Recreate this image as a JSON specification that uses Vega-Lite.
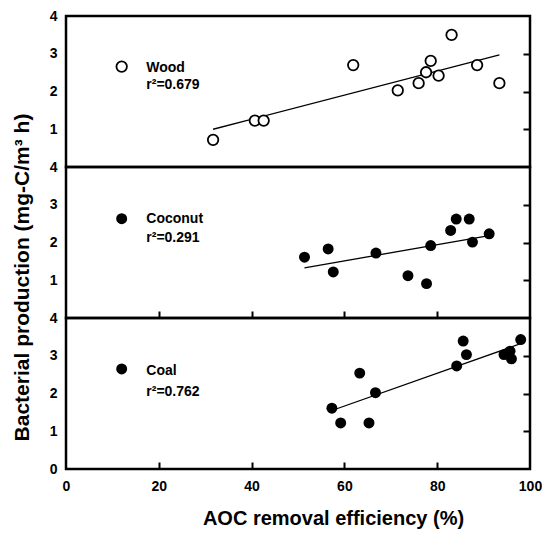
{
  "$schema": "https://vega.github.io/schema/vega-lite/v6.json",
  "padding": {"left": 9, "top": 7, "right": 0, "bottom": 5},
  "background": "white",
  "spacing": 0,
  "bounds": "flush",
  "config": {
    "view": {"stroke": "black", "strokeWidth": 2.5},
    "font": "Liberation Sans",
    "axis": {
      "domain": false, "ticks": false, "grid": true,
      "gridColor": "black", "gridWidth": 2, "gridOpacity": 1,
      "labelFlush": false, "labelOverlap": false,
      "labelFont": "Liberation Sans", "labelFontWeight": "bold", "labelFontSize": 14, "labelColor": "black",
      "titleFont": "Liberation Sans", "titleFontWeight": "bold", "titleFontSize": 21, "titleColor": "black",
      "minExtent": 0
    }
  },
  "datasets": {
    "points": [
      {"panel": "Wood", "x": 31.7, "y": 0.72},
      {"panel": "Wood", "x": 40.7, "y": 1.23},
      {"panel": "Wood", "x": 42.6, "y": 1.23},
      {"panel": "Wood", "x": 61.9, "y": 2.70},
      {"panel": "Wood", "x": 71.5, "y": 2.03},
      {"panel": "Wood", "x": 76.0, "y": 2.22},
      {"panel": "Wood", "x": 77.6, "y": 2.51},
      {"panel": "Wood", "x": 78.6, "y": 2.81},
      {"panel": "Wood", "x": 80.3, "y": 2.42},
      {"panel": "Wood", "x": 83.1, "y": 3.50},
      {"panel": "Wood", "x": 88.6, "y": 2.70},
      {"panel": "Wood", "x": 93.4, "y": 2.22},
      {"panel": "Coconut", "x": 51.4, "y": 1.61},
      {"panel": "Coconut", "x": 56.5, "y": 1.83},
      {"panel": "Coconut", "x": 57.6, "y": 1.22},
      {"panel": "Coconut", "x": 66.8, "y": 1.72},
      {"panel": "Coconut", "x": 73.7, "y": 1.12},
      {"panel": "Coconut", "x": 77.7, "y": 0.91},
      {"panel": "Coconut", "x": 78.6, "y": 1.92},
      {"panel": "Coconut", "x": 82.9, "y": 2.32},
      {"panel": "Coconut", "x": 84.1, "y": 2.62},
      {"panel": "Coconut", "x": 86.9, "y": 2.62},
      {"panel": "Coconut", "x": 87.6, "y": 2.01},
      {"panel": "Coconut", "x": 91.2, "y": 2.23},
      {"panel": "Coal", "x": 57.3, "y": 1.61},
      {"panel": "Coal", "x": 59.2, "y": 1.22},
      {"panel": "Coal", "x": 63.3, "y": 2.54},
      {"panel": "Coal", "x": 65.3, "y": 1.22},
      {"panel": "Coal", "x": 66.7, "y": 2.02},
      {"panel": "Coal", "x": 84.2, "y": 2.73},
      {"panel": "Coal", "x": 85.6, "y": 3.39},
      {"panel": "Coal", "x": 86.3, "y": 3.03},
      {"panel": "Coal", "x": 94.4, "y": 3.03},
      {"panel": "Coal", "x": 95.7, "y": 3.12},
      {"panel": "Coal", "x": 96.0, "y": 2.92},
      {"panel": "Coal", "x": 98.0, "y": 3.43}
    ],
    "lines": [
      {"panel": "Wood", "x": 31.7, "y": 1.00},
      {"panel": "Wood", "x": 93.4, "y": 2.97},
      {"panel": "Coconut", "x": 51.4, "y": 1.33},
      {"panel": "Coconut", "x": 91.2, "y": 2.18},
      {"panel": "Coal", "x": 57.3, "y": 1.55},
      {"panel": "Coal", "x": 98.0, "y": 3.32}
    ],
    "keys": [
      {"panel": "Wood", "x": 12.0, "y": 2.66},
      {"panel": "Coconut", "x": 12.0, "y": 2.63},
      {"panel": "Coal", "x": 12.0, "y": 2.65}
    ],
    "labels": [
      {"panel": "Wood", "x": 17.3, "y": 2.63, "text": "Wood"},
      {"panel": "Wood", "x": 17.3, "y": 2.16, "text": "r²=0.679"},
      {"panel": "Coconut", "x": 17.3, "y": 2.62, "text": "Coconut"},
      {"panel": "Coconut", "x": 17.3, "y": 2.12, "text": "r²=0.291"},
      {"panel": "Coal", "x": 17.3, "y": 2.60, "text": "Coal"},
      {"panel": "Coal", "x": 17.3, "y": 2.05, "text": "r²=0.762"}
    ]
  },
  "vconcat": [
    {
      "width": 464, "height": 151,
      "layer": [
        {
          "data": {"name": "lines"},
          "transform": [{"filter": "datum.panel === 'Wood'"}],
          "mark": {"type": "line", "color": "black", "strokeWidth": 1.3},
          "encoding": {
            "x": {"field": "x", "type": "quantitative", "scale": {"domain": [0, 100], "nice": false}, "axis": null},
            "y": {"field": "y", "type": "quantitative", "scale": {"domain": [0, 4], "nice": false},
                  "axis": {"orient": "right", "values": [1, 2, 3], "labels": false, "title": null, "gridDash": [7, 1000]}}
          }
        },
        {
          "data": {"name": "points"},
          "transform": [{"filter": "datum.panel === 'Wood'"}],
          "mark": {"type": "point", "shape": "circle", "filled": true, "fill": "white", "stroke": "black", "strokeWidth": 1.8, "size": 110, "opacity": 1},
          "encoding": {
            "x": {"field": "x", "type": "quantitative", "axis": {"orient": "bottom", "values": [20, 40, 60, 80], "labels": false, "title": null, "gridDash": [7, 1000]}},
            "y": {"field": "y", "type": "quantitative",
                  "axis": {"orient": "left", "values": [1, 2, 3, 4], "format": "d", "title": null, "labelPadding": 9, "gridDash": [7, 1000]}}
          }
        },
        {
          "data": {"name": "keys"},
          "transform": [{"filter": "datum.panel === 'Wood'"}],
          "mark": {"type": "point", "shape": "circle", "filled": true, "fill": "white", "stroke": "black", "strokeWidth": 1.8, "size": 110, "opacity": 1},
          "encoding": {
            "x": {"field": "x", "type": "quantitative", "axis": {"orient": "bottom", "values": [10, 30, 50, 70, 90], "labels": false, "title": null, "gridDash": [4, 1000]}},
            "y": {"field": "y", "type": "quantitative", "axis": {"orient": "right", "values": [0.5, 1.5, 2.5, 3.5], "labels": false, "title": null, "gridDash": [4, 1000]}}
          }
        },
        {
          "data": {"name": "labels"},
          "transform": [{"filter": "datum.panel === 'Wood'"}],
          "mark": {"type": "text", "align": "left", "baseline": "middle", "fontWeight": "bold", "fontSize": 14, "color": "black"},
          "encoding": {
            "x": {"field": "x", "type": "quantitative", "axis": null},
            "y": {"field": "y", "type": "quantitative", "axis": {"orient": "left", "values": [0.5, 1.5, 2.5, 3.5], "labels": false, "title": null, "gridDash": [4, 1000]}},
            "text": {"field": "text"}
          }
        }
      ],
      "resolve": {"axis": {"x": "independent", "y": "independent"}}
    },
    {
      "width": 464, "height": 151,
      "layer": [
        {
          "data": {"name": "lines"},
          "transform": [{"filter": "datum.panel === 'Coconut'"}],
          "mark": {"type": "line", "color": "black", "strokeWidth": 1.3},
          "encoding": {
            "x": {"field": "x", "type": "quantitative", "scale": {"domain": [0, 100], "nice": false},
                  "axis": {"orient": "top", "values": [20, 40, 60, 80], "labels": false, "title": null, "gridDash": [7, 1000]}},
            "y": {"field": "y", "type": "quantitative", "scale": {"domain": [0, 4], "nice": false},
                  "axis": {"orient": "right", "values": [1, 2, 3], "labels": false, "title": null, "gridDash": [7, 1000]}}
          }
        },
        {
          "data": {"name": "points"},
          "transform": [{"filter": "datum.panel === 'Coconut'"}],
          "mark": {"type": "point", "shape": "circle", "filled": true, "color": "black", "size": 120, "opacity": 1},
          "encoding": {
            "x": {"field": "x", "type": "quantitative", "axis": {"orient": "bottom", "values": [20, 40, 60, 80], "labels": false, "title": null, "gridDash": [7, 1000]}},
            "y": {"field": "y", "type": "quantitative",
                  "axis": {"orient": "left", "values": [1, 2, 3, 4], "format": "d", "labelPadding": 9, "gridDash": [7, 1000],
                           "title": "Bacterial production (mg-C/m³ h)", "titleY": 110, "titlePadding": 17}}
          }
        },
        {
          "data": {"name": "keys"},
          "transform": [{"filter": "datum.panel === 'Coconut'"}],
          "mark": {"type": "point", "shape": "circle", "filled": true, "color": "black", "size": 120, "opacity": 1},
          "encoding": {
            "x": {"field": "x", "type": "quantitative", "axis": {"orient": "top", "values": [10, 30, 50, 70, 90], "labels": false, "title": null, "gridDash": [4, 1000]}},
            "y": {"field": "y", "type": "quantitative", "axis": {"orient": "right", "values": [0.5, 1.5, 2.5, 3.5], "labels": false, "title": null, "gridDash": [4, 1000]}}
          }
        },
        {
          "data": {"name": "labels"},
          "transform": [{"filter": "datum.panel === 'Coconut'"}],
          "mark": {"type": "text", "align": "left", "baseline": "middle", "fontWeight": "bold", "fontSize": 14, "color": "black"},
          "encoding": {
            "x": {"field": "x", "type": "quantitative", "axis": {"orient": "bottom", "values": [10, 30, 50, 70, 90], "labels": false, "title": null, "gridDash": [4, 1000]}},
            "y": {"field": "y", "type": "quantitative", "axis": {"orient": "left", "values": [0.5, 1.5, 2.5, 3.5], "labels": false, "title": null, "gridDash": [4, 1000]}},
            "text": {"field": "text"}
          }
        }
      ],
      "resolve": {"axis": {"x": "independent", "y": "independent"}}
    },
    {
      "width": 464, "height": 151,
      "layer": [
        {
          "data": {"name": "lines"},
          "transform": [{"filter": "datum.panel === 'Coal'"}],
          "mark": {"type": "line", "color": "black", "strokeWidth": 1.3},
          "encoding": {
            "x": {"field": "x", "type": "quantitative", "scale": {"domain": [0, 100], "nice": false},
                  "axis": {"orient": "top", "values": [20, 40, 60, 80], "labels": false, "title": null, "gridDash": [7, 1000]}},
            "y": {"field": "y", "type": "quantitative", "scale": {"domain": [0, 4], "nice": false},
                  "axis": {"orient": "right", "values": [1, 2, 3], "labels": false, "title": null, "gridDash": [7, 1000]}}
          }
        },
        {
          "data": {"name": "points"},
          "transform": [{"filter": "datum.panel === 'Coal'"}],
          "mark": {"type": "point", "shape": "circle", "filled": true, "color": "black", "size": 120, "opacity": 1},
          "encoding": {
            "x": {"field": "x", "type": "quantitative",
                  "axis": {"orient": "bottom", "values": [0, 20, 40, 60, 80, 100], "format": "d", "labelPadding": 10, "gridDash": [7, 1000],
                           "title": "AOC removal efficiency (%)", "titleX": 267, "titlePadding": 15, "titleFontSize": 20}},
            "y": {"field": "y", "type": "quantitative",
                  "axis": {"orient": "left", "values": [0, 1, 2, 3, 4], "format": "d", "title": null, "labelPadding": 9, "gridDash": [7, 1000]}}
          }
        },
        {
          "data": {"name": "keys"},
          "transform": [{"filter": "datum.panel === 'Coal'"}],
          "mark": {"type": "point", "shape": "circle", "filled": true, "color": "black", "size": 120, "opacity": 1},
          "encoding": {
            "x": {"field": "x", "type": "quantitative", "axis": {"orient": "top", "values": [10, 30, 50, 70, 90], "labels": false, "title": null, "gridDash": [4, 1000]}},
            "y": {"field": "y", "type": "quantitative", "axis": {"orient": "right", "values": [0.5, 1.5, 2.5, 3.5], "labels": false, "title": null, "gridDash": [4, 1000]}}
          }
        },
        {
          "data": {"name": "labels"},
          "transform": [{"filter": "datum.panel === 'Coal'"}],
          "mark": {"type": "text", "align": "left", "baseline": "middle", "fontWeight": "bold", "fontSize": 14, "color": "black"},
          "encoding": {
            "x": {"field": "x", "type": "quantitative", "axis": {"orient": "bottom", "values": [10, 30, 50, 70, 90], "labels": false, "title": null, "gridDash": [4, 1000]}},
            "y": {"field": "y", "type": "quantitative", "axis": {"orient": "left", "values": [0.5, 1.5, 2.5, 3.5], "labels": false, "title": null, "gridDash": [4, 1000]}},
            "text": {"field": "text"}
          }
        }
      ],
      "resolve": {"axis": {"x": "independent", "y": "independent"}}
    }
  ]
}
